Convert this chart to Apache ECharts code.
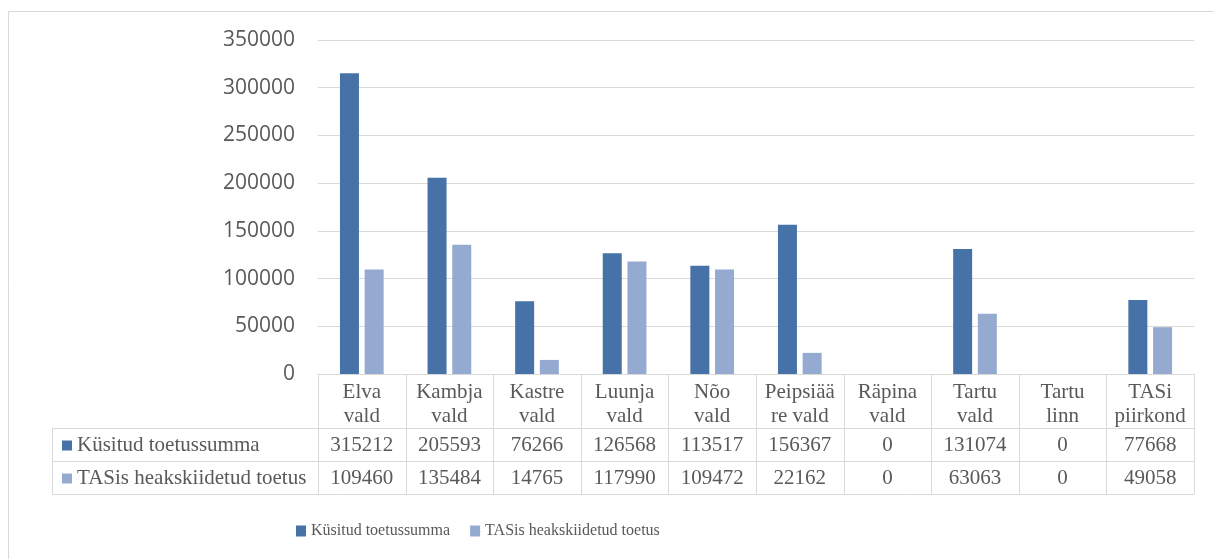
<!DOCTYPE html>
<html>
<head>
<meta charset="utf-8">
<script src="https://cdn.jsdelivr.net/npm/echarts@6/dist/echarts.min.js"></script>
<style>
  html, body { margin: 0; padding: 0; background: #fff; }
  #chart { width: 1214px; height: 559px; }
</style>
</head>
<body>
<div id="chart"></div>
<script>
const categoryLabels = [
  'Elva\nvald', 'Kambja\nvald', 'Kastre\nvald', 'Luunja\nvald', 'Nõo\nvald',
  'Peipsiää\nre vald', 'Räpina\nvald', 'Tartu\nvald', 'Tartu\nlinn', 'TASi\npiirkond'
];
const requested = [315212, 205593, 76266, 126568, 113517, 156367, 0, 131074, 0, 77668];
const approved = [109460, 135484, 14765, 117990, 109472, 22162, 0, 63063, 0, 49058];
const seriesNames = ['Küsitud toetussumma', 'TASis heakskiidetud toetus'];
const seriesColors = ['#4672a7', '#95aad0'];

const chart = echarts.init(document.getElementById('chart'));

// layout of plot + data table under it
const plotLeft = 318;
const plotRight = 1194;
const tableLeft = 52;
const rowY = [374, 428, 461, 494];
const colW = (plotRight - plotLeft) / categoryLabels.length;
const lineColor = '#d9d9d9';
const textColor = '#595959';
const serif = 'Liberation Serif';

function hline(x1, x2, y) {
  return {
    type: 'line', silent: true,
    shape: { x1: x1, y1: y + 0.5, x2: x2, y2: y + 0.5 },
    style: { stroke: lineColor, lineWidth: 1 }
  };
}
function vline(x, y1, y2) {
  return {
    type: 'line', silent: true,
    shape: { x1: x + 0.5, y1: y1, x2: x + 0.5, y2: y2 },
    style: { stroke: lineColor, lineWidth: 1 }
  };
}

const graphics = [];
// outer chart frame
graphics.push({
  type: 'rect', silent: true,
  shape: { x: 8.5, y: 11.5, width: 1400, height: 800 },
  style: { fill: 'none', stroke: lineColor, lineWidth: 1 }
});

graphics.push(hline(tableLeft, plotRight, rowY[1]));
graphics.push(hline(tableLeft, plotRight, rowY[2]));
graphics.push(hline(tableLeft, plotRight, rowY[3]));
graphics.push(vline(tableLeft, rowY[1], rowY[3]));
for (let i = 0; i <= categoryLabels.length; i++) {
  graphics.push(vline(Math.round(plotLeft + i * colW), rowY[0], rowY[3]));
}

const tableData = [requested, approved];
tableData.forEach((vals, r) => {
  const cy = (rowY[r + 1] + rowY[r + 2]) / 2 + 1;
  graphics.push({
    type: 'rect', silent: true,
    shape: { x: 62, y: cy - 5, width: 10, height: 10 },
    style: { fill: seriesColors[r] }
  });
  graphics.push({
    type: 'text', silent: true,
    x: 77, y: cy,
    style: {
      text: seriesNames[r], fill: textColor,
      fontFamily: serif, fontSize: 21,
      align: 'left', verticalAlign: 'middle'
    }
  });
  vals.forEach((v, i) => {
    graphics.push({
      type: 'text', silent: true,
      x: plotLeft + (i + 0.5) * colW, y: cy,
      style: {
        text: String(v), fill: textColor,
        fontFamily: serif, fontSize: 21,
        align: 'center', verticalAlign: 'middle'
      }
    });
  });
});

const option = {
  animation: false,
  grid: {
    left: plotLeft,
    right: 1214 - plotRight,
    top: 40,
    bottom: 559 - rowY[0]
  },
  legend: {
    left: 291,
    top: 518,
    itemWidth: 10,
    itemHeight: 11,
    itemGap: 20,
    icon: 'rect',
    textStyle: { color: textColor, fontSize: 16, fontFamily: serif },
    data: seriesNames
  },
  xAxis: {
    type: 'category',
    data: categoryLabels,
    axisLine: { show: true, lineStyle: { color: lineColor, width: 1 } },
    axisTick: { show: false },
    axisLabel: {
      color: textColor,
      fontSize: 21,
      fontFamily: serif,
      lineHeight: 24,
      margin: 6,
      interval: 0
    }
  },
  yAxis: {
    type: 'value',
    min: 0,
    max: 350000,
    interval: 50000,
    axisLine: { show: false },
    axisTick: { show: false },
    splitLine: { lineStyle: { color: lineColor, width: 1 } },
    axisLabel: {
      color: textColor,
      fontSize: 21,
      fontFamily: 'Open Sans',
      margin: 23,
      formatter: (v) => String(v)
    }
  },
  series: [
    {
      name: seriesNames[0],
      type: 'bar',
      data: requested,
      barWidth: 19,
      barGap: '30%',
      itemStyle: { color: seriesColors[0] }
    },
    {
      name: seriesNames[1],
      type: 'bar',
      data: approved,
      barWidth: 19,
      barGap: '30%',
      itemStyle: { color: seriesColors[1] }
    }
  ],
  graphic: graphics
};

chart.setOption(option);
</script>
</body>
</html>
